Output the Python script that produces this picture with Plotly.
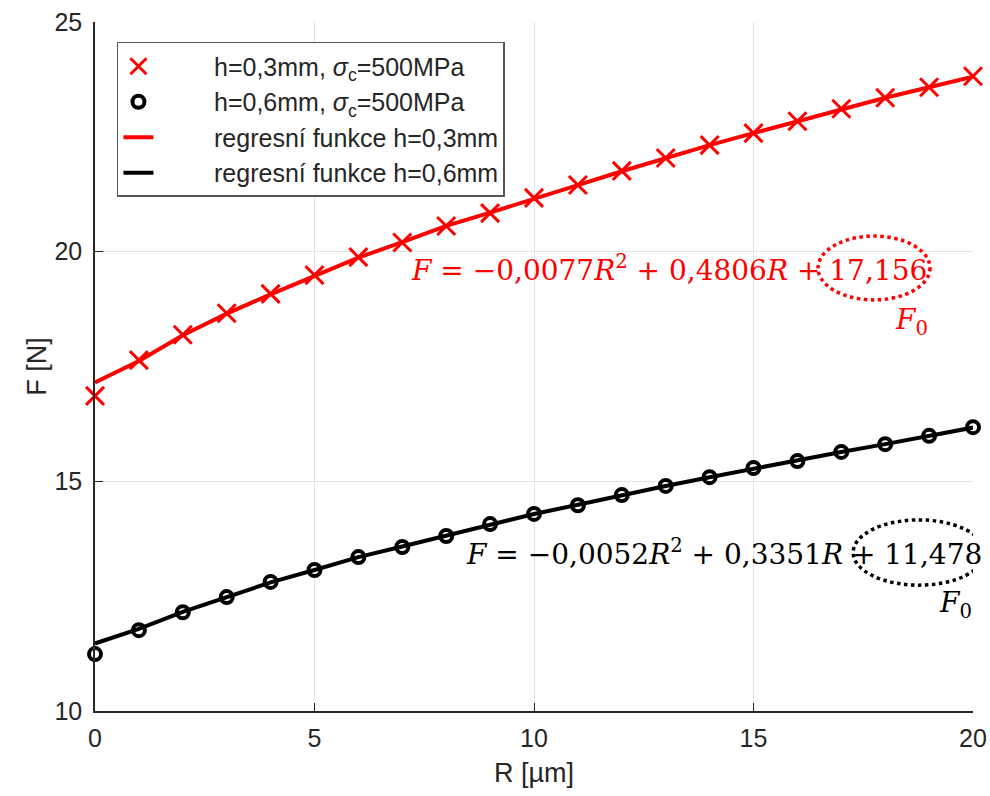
import plotly.graph_objects as go

R = list(range(0, 21))
F_h03 = [16.86, 17.64, 18.19, 18.66, 19.08, 19.49, 19.88, 20.20, 20.56, 20.84, 21.17,
         21.45, 21.76, 22.04, 22.32, 22.58, 22.84, 23.11, 23.35, 23.58, 23.82]
F_h06 = [11.24, 11.76, 12.15, 12.48, 12.81, 13.07, 13.35, 13.57, 13.81, 14.07, 14.29,
         14.48, 14.70, 14.90, 15.09, 15.29, 15.44, 15.64, 15.81, 15.99, 16.18]
# regression curves as drawn
reg_h03 = [17.15, 17.62, 18.18, 18.65, 19.07, 19.48, 19.87, 20.21, 20.56, 20.85, 21.16,
           21.45, 21.75, 22.04, 22.32, 22.58, 22.84, 23.10, 23.35, 23.58, 23.81]
reg_h06 = [11.47, 11.79, 12.16, 12.49, 12.80, 13.07, 13.35, 13.58, 13.82, 14.06, 14.29,
           14.49, 14.70, 14.90, 15.09, 15.28, 15.45, 15.64, 15.81, 15.99, 16.17]

pad = "\u00a0" * 8
names = [pad + "h=0,3mm, <i>σ</i><sub>c</sub>=500MPa", pad + "h=0,6mm, <i>σ</i><sub>c</sub>=500MPa",
         pad + "regresní funkce h=0,3mm", pad + "regresní funkce h=0,6mm"]

fig = go.Figure()
fig.add_trace(go.Scatter(x=R, y=reg_h03, mode="lines", name=names[2],
                         line=dict(color="#ff0000", width=4), legendrank=3))
fig.add_trace(go.Scatter(x=R, y=reg_h06, mode="lines", name=names[3],
                         line=dict(color="#000000", width=4), legendrank=4))
fig.add_trace(go.Scatter(x=R, y=F_h03, mode="markers", name=names[0], legendrank=1,
                         cliponaxis=False,
                         marker=dict(symbol="x-thin", size=18, color="#ff0000",
                                     line=dict(color="#ff0000", width=3))))
fig.add_trace(go.Scatter(x=R, y=F_h06, mode="markers", name=names[1], legendrank=2,
                         cliponaxis=False,
                         marker=dict(symbol="circle-open", size=12, color="#000000",
                                     line=dict(color="#000000", width=4))))

eq_font = "DejaVu Serif"
eq_size = 28
fig.add_annotation(x=13.08, y=19.64, xref="x", yref="y", showarrow=False,
                   text="<i>F</i> = −0,0077<i>R</i><sup>2</sup> + 0,4806<i>R</i> + 17,156",
                   font=dict(family=eq_font, size=eq_size, color="#ff0000"))
fig.add_annotation(x=18.61, y=18.47, xref="x", yref="y", showarrow=False,
                   text="<i>F</i><sub>0</sub>",
                   font=dict(family=eq_font, size=eq_size, color="#ff0000"))
fig.add_annotation(x=14.33, y=13.46, xref="x", yref="y", showarrow=False,
                   text="<i>F</i> = −0,0052<i>R</i><sup>2</sup> + 0,3351<i>R</i> + 11,478",
                   font=dict(family=eq_font, size=eq_size, color="#000000"))
fig.add_annotation(x=19.59, y=12.31, xref="x", yref="y", showarrow=False,
                   text="<i>F</i><sub>0</sub>",
                   font=dict(family=eq_font, size=eq_size, color="#000000"))

fig.add_shape(type="circle", xref="x", yref="y", x0=16.47, x1=19.02, y0=18.95, y1=20.34,
              line=dict(color="#ff0000", width=3.5, dash="dot"))
fig.add_shape(type="circle", xref="x", yref="y", x0=17.27, x1=20.27, y0=12.74, y1=14.16,
              line=dict(color="#000000", width=3.5, dash="dot"))

axis_common = dict(showgrid=True, gridcolor="#e3e3e3", gridwidth=1, showline=True,
                   linecolor="#262626", linewidth=1.5, ticks="inside", ticklen=8,
                   tickcolor="#262626", zeroline=False, mirror=False, automargin=False,
                   tickfont=dict(family="Liberation Sans", size=25, color="#262626"))

fig.update_layout(
    width=990, height=796,
    margin=dict(l=95, r=17, t=22, b=85),
    paper_bgcolor="white", plot_bgcolor="white",
    showlegend=True,
    legend=dict(x=0.025, y=0.971, xanchor="left", yanchor="top",
                bgcolor="white", bordercolor="#555555", borderwidth=1.5,
                font=dict(family="Liberation Sans", size=25, color="#262626"),
                tracegroupgap=0),
    xaxis=dict(range=[0, 20], dtick=5, tick0=0, ticklabelstandoff=4,
               title=dict(text="R [µm]", font=dict(family="Liberation Sans", size=27, color="#262626"),
                          standoff=12),
               **axis_common),
    yaxis=dict(range=[10, 25], dtick=5, tick0=10, ticklabelstandoff=6,
               title=dict(text="F [N]", font=dict(family="Liberation Sans", size=27, color="#262626"),
                          standoff=0),
               **axis_common),
)

fig.write_html("out.html", config={"displayModeBar": False},
               post_script="document.body.style.margin='0';document.body.style.overflow='hidden';")
